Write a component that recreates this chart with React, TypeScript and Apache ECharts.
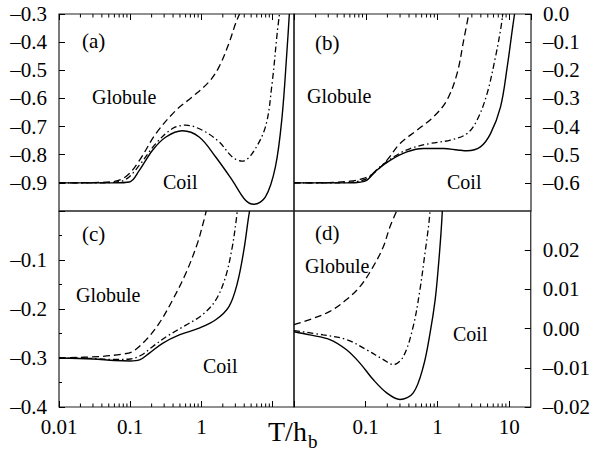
import React, { useEffect, useRef } from "react";
import * as echarts from "echarts";

// ---- data (T/h_b values and reduced quantities) ----
const solidA_x = [0.01, 0.03, 0.06, 0.098, 0.135, 0.206, 0.318, 0.54, 0.93, 1.59, 2.72, 4.17, 5.46, 7.94, 10.96, 13.6, 15.96, 17.2];
const solidA_y = [-0.9, -0.9, -0.9, -0.897, -0.855, -0.784, -0.737, -0.715, -0.737, -0.808, -0.891, -0.962, -0.976, -0.95, -0.843, -0.665, -0.428, -0.3];
const dashDotA_x = [0.01, 0.03, 0.06, 0.09, 0.135, 0.23, 0.393, 0.605, 1.03, 1.77, 2.72, 3.74, 5.16, 7.94, 9.84, 11.6, 12.5];
const dashDotA_y = [-0.9, -0.9, -0.898, -0.885, -0.837, -0.76, -0.707, -0.695, -0.713, -0.754, -0.808, -0.823, -0.796, -0.701, -0.547, -0.369, -0.3];
const dashedA_x = [0.01, 0.03, 0.06, 0.09, 0.135, 0.23, 0.44, 0.75, 1.28, 1.77, 2.44, 3.03, 3.44];
const dashedA_y = [-0.9, -0.899, -0.895, -0.875, -0.82, -0.725, -0.642, -0.594, -0.541, -0.488, -0.404, -0.333, -0.3];

const solidB_x = [0.01, 0.03, 0.06, 0.08, 0.103, 0.142, 0.218, 0.373, 0.637, 1.21, 1.9, 2.57, 3.95, 5.46, 7.53, 9.33, 10.96, 11.8];
const solidB_y = [-0.6, -0.6, -0.6, -0.598, -0.591, -0.555, -0.52, -0.49, -0.478, -0.478, -0.483, -0.486, -0.472, -0.425, -0.33, -0.188, -0.057, 0];
const dashDotB_x = [0.01, 0.03, 0.06, 0.08, 0.103, 0.158, 0.243, 0.415, 0.79, 1.51, 2.57, 3.55, 4.9, 6.41, 7.53, 8.1];
const dashDotB_y = [-0.6, -0.6, -0.598, -0.594, -0.585, -0.543, -0.508, -0.478, -0.46, -0.448, -0.425, -0.377, -0.282, -0.152, -0.057, 0];
const dashedB_x = [0.01, 0.03, 0.06, 0.09, 0.127, 0.196, 0.3, 0.515, 0.88, 1.35, 1.87, 2.31, 2.72];
const dashedB_y = [-0.6, -0.599, -0.594, -0.585, -0.567, -0.52, -0.46, -0.413, -0.365, -0.306, -0.211, -0.093, 0];

const solidC_x = [0.01, 0.03, 0.06, 0.1, 0.135, 0.186, 0.285, 0.49, 0.93, 1.59, 2.44, 3.19, 3.95, 4.54, 4.75];
const solidC_y = [-0.3, -0.302, -0.305, -0.306, -0.304, -0.29, -0.27, -0.253, -0.239, -0.222, -0.195, -0.148, -0.08, -0.018, 0];
const dashDotC_x = [0.01, 0.03, 0.06, 0.1, 0.14, 0.206, 0.318, 0.605, 1.03, 1.59, 2.19, 2.72, 3.09, 3.19];
const dashDotC_y = [-0.3, -0.301, -0.303, -0.302, -0.295, -0.277, -0.257, -0.233, -0.212, -0.182, -0.134, -0.073, -0.018, 0];
const dashedC_x = [0.01, 0.037, 0.078, 0.108, 0.167, 0.256, 0.393, 0.605, 0.88, 1.09, 1.17];
const dashedC_y = [-0.3, -0.297, -0.292, -0.287, -0.263, -0.229, -0.182, -0.127, -0.066, -0.018, 0];

const solidD_x = [0.01, 0.0166, 0.0316, 0.054, 0.083, 0.127, 0.196, 0.3, 0.46, 0.637, 0.79, 0.93, 1.03, 1.12, 1.17];
const solidD_y = [-0.0008, -0.0016, -0.0028, -0.0054, -0.0088, -0.013, -0.0164, -0.0181, -0.0164, -0.0096, -0.0011, 0.0074, 0.0158, 0.0243, 0.03];
const dashDotD_x = [0.01, 0.0255, 0.054, 0.103, 0.176, 0.243, 0.335, 0.46, 0.57, 0.67, 0.75, 0.79];
const dashDotD_y = [-0.0005, -0.0016, -0.0028, -0.0054, -0.0079, -0.0092, -0.0071, 0.0006, 0.0099, 0.0192, 0.026, 0.03];
const dashedD_x = [0.01, 0.0166, 0.0316, 0.054, 0.083, 0.127, 0.176, 0.218, 0.27];
const dashedD_y = [0.001, 0.0023, 0.0044, 0.0074, 0.0107, 0.0158, 0.0209, 0.026, 0.03];

const xTickLabels: Record<string, string> = { "-2": "0.01", "-1": "0.1", "0": "1", "1": "10" };
const yRanges = [
  { min: -1.0, max: -0.3, interval: 0.1, digits: 1 },
  { min: -0.7, max: 0.0, interval: 0.1, digits: 1 },
  { min: -0.4, max: 0.0, interval: 0.1, digits: 1 },
  { min: -0.02, max: 0.03, interval: 0.01, digits: 2 },
];
const panelLabels = ["(a)", "(b)", "(c)", "(d)"];

const X_MIN = 0.01;
const X_MAX = 20;
const FONT = "Liberation Serif";

export default function App() {
  const ref = useRef<HTMLDivElement>(null);
  useEffect(() => {
    if (!ref.current) return;
    const chart = echarts.init(ref.current, null, { renderer: "svg" });
    const lx = Math.log10;
    const toPts = (xs: number[], ys: number[]) => xs.map((x, i) => [lx(x), ys[i]]);

    const grids = [
      { left: 59, top: 14, width: 235, height: 197 },
      { left: 294, top: 14, width: 237, height: 197 },
      { left: 59, top: 211, width: 235, height: 196 },
      { left: 294, top: 211, width: 237, height: 196 },
    ].map((g) => ({ ...g, show: true, borderColor: "#222", borderWidth: 1.2 }));

    const fmtY = (digits: number) => (v: number) => {
      if (Math.abs(v) < 1e-9) return (0).toFixed(digits);
      return (v < 0 ? "\u2013" : "") + Math.abs(v).toFixed(digits);
    };

    const xAxes = [0, 1, 2, 3].map((i) => ({
      type: "value",
      gridIndex: i,
      min: lx(X_MIN),
      max: lx(X_MAX),
      interval: 1,
      position: i < 2 ? "top" : "bottom",
      axisLine: { show: false, onZero: false },
      splitLine: { show: false },
      axisTick: { show: true, inside: true, length: 6, lineStyle: { color: "#000", width: 1 } },
      axisLabel: {
        show: i >= 2,
        margin: 9,
        color: "#000",
        fontFamily: FONT,
        fontSize: 21,
        showMaxLabel: false,
        formatter: (v: number) => {
          const r = Math.round(v);
          if (Math.abs(v - r) > 1e-6) return "";
          if (i === 2 && r === 1) return "";
          if (i === 3 && r === -2) return "";
          return xTickLabels[String(r)] || "";
        },
      },
    }));

    const yAxes = [0, 1, 2, 3].map((i) => ({
      type: "value",
      gridIndex: i,
      min: yRanges[i].min,
      max: yRanges[i].max,
      interval: yRanges[i].interval,
      position: i % 2 === 0 ? "left" : "right",
      axisLine: { show: false, onZero: false },
      splitLine: { show: false },
      axisTick: { show: true, inside: true, length: 6, lineStyle: { color: "#000", width: 1 } },
      minorTick: { show: i === 2, splitNumber: 2, length: 3, lineStyle: { color: "#000", width: 1 } },
      axisLabel: {
        margin: 12,
        color: "#000",
        fontFamily: FONT,
        fontSize: 21,
        showMinLabel: i < 2 ? false : true,
        showMaxLabel: i < 2 ? true : false,
        formatter: fmtY(yRanges[i].digits),
      },
    }));

    const solidStyle = { color: "#000", width: 1.4, type: "solid" as const };
    const dashStyle = { color: "#000", width: 1.3, type: [7, 4] };
    const dashDotStyle = { color: "#000", width: 1.3, type: [6, 3, 1.5, 3] };

    const panels = [
      [solidA_x, solidA_y, dashDotA_x, dashDotA_y, dashedA_x, dashedA_y],
      [solidB_x, solidB_y, dashDotB_x, dashDotB_y, dashedB_x, dashedB_y],
      [solidC_x, solidC_y, dashDotC_x, dashDotC_y, dashedC_x, dashedC_y],
      [solidD_x, solidD_y, dashDotD_x, dashDotD_y, dashedD_x, dashedD_y],
    ];

    const series: any[] = [];
    panels.forEach((p, i) => {
      const styles = [solidStyle, dashDotStyle, dashStyle];
      for (let k = 0; k < 3; k++) {
        series.push({
          type: "line",
          xAxisIndex: i,
          yAxisIndex: i,
          data: toPts(p[2 * k] as number[], p[2 * k + 1] as number[]),
          symbol: "none",
          smooth: 0.35,
          lineStyle: styles[k],
          z: 3,
        });
      }
      // minor log ticks along the outer horizontal edge of each panel
      const ticks: number[][] = [];
      const startDec = i === 3 ? -1 : -2;
      const edgeY = i < 2 ? yRanges[i].max : yRanges[i].min;
      const dir = i < 2 ? 1 : -1;
      for (let n = startDec; n <= 1; n++) {
        for (let m = 2; m <= 9; m++) {
          const v = lx(m * Math.pow(10, n));
          if (v < lx(X_MAX)) ticks.push([v, edgeY]);
        }
      }
      series.push({
        type: "custom",
        coordinateSystem: "cartesian2d",
        xAxisIndex: i,
        yAxisIndex: i,
        clip: false,
        data: ticks,
        z: 10,
        renderItem: (_params: any, api: any) => {
          const pt = api.coord([api.value(0), api.value(1)]);
          return {
            type: "line",
            shape: { x1: pt[0], y1: pt[1], x2: pt[0], y2: pt[1] + dir * 3.5 },
            style: { stroke: "#000", lineWidth: 1 },
          };
        },
      });
    });

    const txt = (text: string, x: number, y: number, size: number) => ({
      type: "text",
      x,
      y,
      style: {
        text,
        fill: "#000",
        fontFamily: FONT,
        fontSize: size,
      },
    });

    // text y = top of text box
    const graphic = [
      txt(panelLabels[0], 82, 30, 21),
      txt("Globule", 92, 87, 20),
      txt("Coil", 163, 172, 20),
      txt(panelLabels[1], 315, 32, 21),
      txt("Globule", 307, 86, 20),
      txt("Coil", 447, 172, 20),
      txt(panelLabels[2], 82, 223, 21),
      txt("Globule", 76, 285, 20),
      txt("Coil", 203, 356, 20),
      txt(panelLabels[3], 315, 222, 21),
      txt("Globule", 305, 256, 20),
      txt("Coil", 453, 324, 20),
      txt("T/h", 268, 417, 28),
      txt("b", 308, 432, 19),
    ];

    chart.setOption({
      animation: false,
      backgroundColor: "#fff",
      textStyle: { fontFamily: FONT },
      grid: grids,
      xAxis: xAxes,
      yAxis: yAxes,
      series,
      graphic,
    } as any);
    return () => chart.dispose();
  }, []);
  return (
    <div
      ref={ref}
      style={{ position: "fixed", left: 0, top: 0, width: 593, height: 453, background: "#fff" }}
    />
  );
}
